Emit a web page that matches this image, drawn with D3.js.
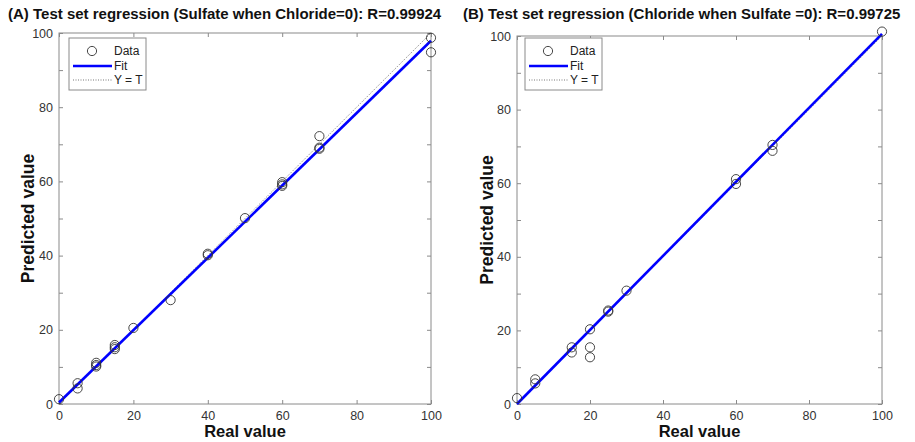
<!DOCTYPE html>
<html>
<head>
<meta charset="utf-8">
<script src="https://cdn.jsdelivr.net/npm/d3@7"></script>
<style>
  body { margin: 0; background: #fff; }
  svg { font-family: "Liberation Sans", Arial, sans-serif; }
  .tick text { fill: #333; font-size: 12.5px; }
  .domain { display: none; }
  .tick line { stroke: #8a8a8a; }
</style>
</head>
<body>
<svg id="chart" width="915" height="442"></svg>
<script>
// panel A: sulfate, panel B: chloride
var realA = [0, 5, 5, 10, 10, 10, 15, 15, 15, 20, 30, 40, 40, 50, 60, 60, 60, 70, 70, 70, 100, 100];
var predA = [1.3, 5.6, 4.2, 11.1, 10.1, 10.5, 15.9, 14.8, 15.3, 20.5, 28, 40.5, 40.1, 50.1, 59.8, 58.8, 59.2, 72.2, 69.1, 68.8, 98.7, 94.8];
var fitA = [0.975, 0.4]; // slope, intercept
var titleA = "(A) Test set regression (Sulfate when Chloride=0): R=0.99924";

var realB = [0, 5, 5, 15, 15, 20, 20, 20, 25, 25, 30, 60, 60, 70, 70, 100];
var predB = [1.6, 6.7, 5.6, 15.4, 14.0, 15.4, 12.7, 20.3, 25.4, 25.1, 30.8, 61.1, 59.8, 70.4, 68.8, 101.2];
var fitB = [1.006, 0];
var titleB = "(B) Test set regression (Chloride when Sulfate =0): R=0.99725";

var xTicks = [0, 20, 40, 60, 80, 100];
var yTicks = [0, 10, 20, 30, 40, 50, 60, 70, 80, 90, 100];
var legendItems = ["Data", "Fit", "Y = T"];

var svg = d3.select("#chart");

function panel(cfg) {
  var x = d3.scaleLinear().domain([0, 100]).range([cfg.left, cfg.right]);
  var y = d3.scaleLinear().domain([0, 100]).range([cfg.bottom, cfg.top]);
  var g = svg.append("g");

  // ticks on all four sides, pointing inward
  g.append("g").attr("transform", "translate(0," + cfg.bottom + ")")
    .call(d3.axisBottom(x).tickValues(xTicks).tickSize(-4).tickPadding(7).tickFormat(d3.format("d")));
  g.append("g").attr("transform", "translate(0," + cfg.top + ")")
    .call(d3.axisTop(x).tickValues(xTicks).tickSize(-4).tickFormat(""));
  g.append("g").attr("transform", "translate(" + cfg.left + ",0)")
    .call(d3.axisLeft(y).tickValues(yTicks).tickSize(-4).tickPadding(6)
      .tickFormat(function(d) { return d % 20 === 0 ? d : ""; }));
  g.append("g").attr("transform", "translate(" + cfg.right + ",0)")
    .call(d3.axisRight(y).tickValues(yTicks).tickSize(-4).tickFormat(""));

  g.append("rect")
    .attr("x", cfg.left).attr("y", cfg.top)
    .attr("width", cfg.right - cfg.left).attr("height", cfg.bottom - cfg.top)
    .attr("fill", "none").attr("stroke", "#8a8a8a").attr("stroke-width", 1);

  // Y = T
  g.append("line")
    .attr("x1", x(0)).attr("y1", y(0)).attr("x2", x(100)).attr("y2", y(100))
    .attr("stroke", "#777").attr("stroke-width", 1).attr("stroke-dasharray", "1,1.5");

  // fit
  g.append("line")
    .attr("x1", x(0)).attr("y1", y(cfg.fit[1]))
    .attr("x2", x(100)).attr("y2", y(cfg.fit[0] * 100 + cfg.fit[1]))
    .attr("stroke", "#0000ff").attr("stroke-width", 2.6);

  // data
  g.selectAll("circle.pt")
    .data(d3.zip(cfg.real, cfg.pred))
    .enter().append("circle")
    .attr("class", "pt")
    .attr("cx", function(d) { return x(d[0]); })
    .attr("cy", function(d) { return y(d[1]); })
    .attr("r", 4.6)
    .attr("fill", "none").attr("stroke", "#333").attr("stroke-width", 0.9);

  // legend
  var lg = g.append("g").attr("transform", "translate(" + cfg.legX + "," + cfg.legY + ")");
  lg.append("rect").attr("width", 77).attr("height", 52)
    .attr("fill", "#fff").attr("stroke", "#8a8a8a").attr("stroke-width", 1);
  lg.append("circle").attr("cx", 23).attr("cy", 13).attr("r", 4.6)
    .attr("fill", "none").attr("stroke", "#333").attr("stroke-width", 0.9);
  lg.append("line").attr("x1", 4).attr("x2", 43).attr("y1", 28).attr("y2", 28)
    .attr("stroke", "#0000ff").attr("stroke-width", 2.6);
  lg.append("line").attr("x1", 4).attr("x2", 43).attr("y1", 42).attr("y2", 42)
    .attr("stroke", "#777").attr("stroke-width", 1).attr("stroke-dasharray", "1,1.5");
  lg.selectAll("text.leg")
    .data(legendItems)
    .enter().append("text")
    .attr("x", 45)
    .attr("y", function(d, i) { return 13 + i * 14.5; })
    .attr("dy", "0.35em")
    .attr("font-size", 12)
    .attr("fill", "#222")
    .text(function(d) { return d; });

  // title
  svg.append("text")
    .attr("x", cfg.titleX).attr("y", 19)
    .attr("font-size", 15).attr("font-weight", "bold").attr("fill", "#111")
    .text(cfg.title);

  svg.append("text")
    .attr("x", (cfg.left + cfg.right) / 2).attr("y", 437)
    .attr("text-anchor", "middle")
    .attr("font-size", 16.5).attr("font-weight", "bold").attr("fill", "#111")
    .text("Real value");

  svg.append("text")
    .attr("transform", "translate(" + cfg.ylabX + "," + ((cfg.top + cfg.bottom) / 2) + ") rotate(-90)")
    .attr("text-anchor", "middle")
    .attr("font-size", 17.5).attr("font-weight", "bold").attr("fill", "#111")
    .text("Predicted value");
}

panel({ left: 59, right: 431, top: 33, bottom: 404, real: realA, pred: predA, fit: fitA,
        title: titleA, titleX: 8, ylabX: 34, legX: 69, legY: 38 });
panel({ left: 517, right: 882, top: 36, bottom: 404, real: realB, pred: predB, fit: fitB,
        title: titleB, titleX: 463, ylabX: 493, legX: 525, legY: 38 });
</script>
</body>
</html>
